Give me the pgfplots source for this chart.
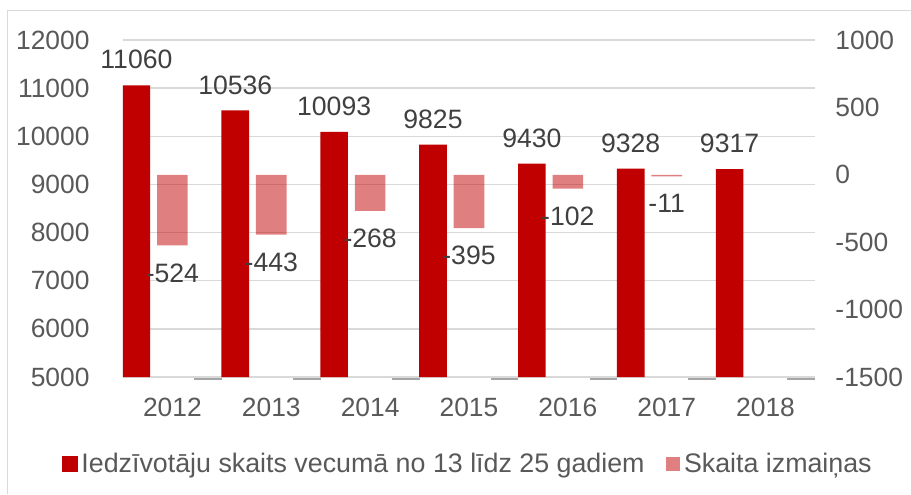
\documentclass[border=0pt]{standalone}
\usepackage{pgfplots}
\pgfplotsset{compat=1.18}
\usepackage{fontspec}
\setmainfont{Liberation Sans}
\definecolor{c1}{HTML}{C00000}
\definecolor{c2}{HTML}{DF8080}
\definecolor{tx}{HTML}{595959}
\definecolor{lbl}{HTML}{404040}
\definecolor{grd}{HTML}{D9D9D9}
\definecolor{dsh}{HTML}{A6A6A6}
\begin{document}
\begin{tikzpicture}
\useasboundingbox (0,0) rectangle (455.5pt,247pt);
\draw[grd, line width=0.5pt] (3.65pt,0) -- (3.65pt,241.5pt) -- (455.5pt,241.5pt);
\pgfplotsset{
 base/.style={
  at={(61.5pt,58.5pt)}, anchor=south west,
  scale only axis, width=346pt, height=168.5pt,
  xmin=-0.5, xmax=6.5,
  xtick={0,...,6},
  tick style={draw=none},
  axis line style={draw=none},
  scaled y ticks=false,
  /pgf/number format/.cd, 1000 sep={}, assume math mode=true, /pgfplots/.cd,
  tick label style={font=\fontsize{13.2}{15}\selectfont, text=tx},
 }
}
\begin{axis}[base,
  ymin=5000, ymax=12000, ytick={5000,6000,...,12000},
  yticklabels={5000,6000,7000,8000,9000,10000,11000,12000},
  xticklabels={2012,2013,2014,2015,2016,2017,2018},
  xticklabel style={yshift=-7pt},
  yticklabel style={xshift=-13.2pt},
  ymajorgrids, grid style={grd, line width=0.75pt},
]
\addplot[ybar, fill=c1, draw=none, bar width=13.8pt, bar shift=-18pt,
  nodes near coords,
  every node near coord/.append style={font=\fontsize{13.3}{15}\selectfont, text=lbl, xshift=-18pt, yshift=4.5pt}]
  coordinates {(0,11060) (1,10536) (2,10093) (3,9825) (4,9430) (5,9328) (6,9317)};
\end{axis}
\begin{axis}[base,
  ymin=-1500, ymax=1000, ytick={-1500,-1000,...,1000},
  yticklabels={-1500,-1000,-500,0,500,1000},
  yticklabel pos=right,
  xticklabels={},
  yticklabel style={xshift=6.7pt},
  clip=false,
  legend style={at={(0.5,-0.258)}, anchor=center, legend columns=2, draw=none, fill=none,
    font=\fontsize{13.4}{15}\selectfont, text=tx, inner sep=0pt,
    /tikz/every even column/.append style={column sep=8.5pt}},
]
\addlegendimage{legend image code/.code={\fill[c1] (0pt,-3.6pt) rectangle (7.2pt,3.6pt);}}
\addlegendentry{Iedzīvotāju skaits vecumā no 13 līdz 25 gadiem}
\addplot[ybar, fill=c1, fill opacity=0.5, draw=none, bar width=15.3pt, bar shift=0pt,
  nodes near coords,
  every node near coord/.append style={font=\fontsize{13.3}{15}\selectfont, text=lbl, text opacity=1, fill opacity=1, yshift=-5.5pt},
  legend image code/.code={\fill[c1] (0pt,-3.6pt) rectangle (7.2pt,3.6pt);}]
  coordinates {(0,-524) (1,-443) (2,-268) (3,-395) (4,-102) (5,-11)};
\addlegendentry{Skaita izmaiņas}
\addplot[dsh, line width=1pt, yshift=-1pt, unbounded coords=jump, forget plot]
  coordinates {(0.22,-1500) (0.5,-1500) (0.6,nan) (1.22,-1500) (1.5,-1500) (1.6,nan)
   (2.22,-1500) (2.5,-1500) (2.6,nan) (3.22,-1500) (3.5,-1500) (3.6,nan)
   (4.22,-1500) (4.5,-1500) (4.6,nan) (5.22,-1500) (5.5,-1500) (5.6,nan)
   (6.22,-1500) (6.5,-1500)};
\end{axis}
\end{tikzpicture}
\end{document}
